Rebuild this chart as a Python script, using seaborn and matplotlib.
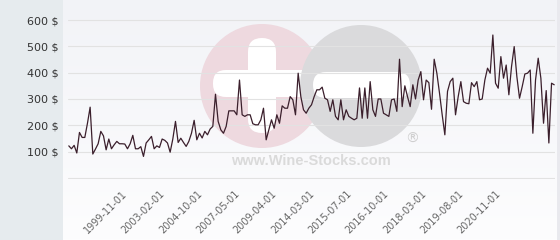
import numpy as np
import pandas as pd
import matplotlib
matplotlib.use("Agg")
import matplotlib.pyplot as plt
import seaborn as sns
from matplotlib.patches import Circle, FancyBboxPatch, Rectangle

# ---- data ----
prices = [
    122, 111, 124, 95, 173, 154, 154, 208, 269, 91, 110, 130, 177, 160, 107, 148, 111, 126, 139, 130,
    130, 129, 111, 130, 162, 111, 111, 119, 82, 133, 145, 158, 111, 122, 116, 148, 143, 133, 98, 148,
    215, 135, 151, 135, 120, 139, 170, 219, 145, 170,
    152, 177, 164, 186, 196, 318, 215, 183, 170, 196, 255, 255, 255, 240, 372, 240, 234, 240, 240, 206,
    202, 202, 221, 265, 145, 183, 221, 189, 240, 208, 274, 265, 265, 309, 297, 240, 398, 309, 259, 246,
    265, 278, 309, 335, 335, 345, 303, 297, 253, 297, 234, 221, 297, 221, 259, 234, 227, 221, 227,
    342, 227, 342, 227, 366, 259, 234, 300, 300, 246, 240, 234, 297, 300, 253, 451, 271, 350, 309, 271,
    354, 300, 372, 404, 297, 372, 362, 261, 451, 398, 322, 240, 164, 329, 366, 379, 240, 309, 366, 290,
    284, 282, 362, 347, 366, 297, 300, 372, 417, 398, 543, 360, 341, 461, 379, 429, 316, 423, 499, 385,
    303, 347, 395, 398, 410, 170, 372, 455, 379, 208, 332, 133, 360, 354,
]
tick_labels = ["1999-11-01", "2003-02-01", "2004-10-01", "2007-05-01", "2009-04-01",
               "2014-03-01", "2015-07-01", "2016-10-01", "2018-03-01", "2019-08-01",
               "2020-11-01"]
first_tick = 20
tick_step = 14
y_ticks = [0, 100, 200, 300, 400, 500, 600]

df = pd.DataFrame({"idx": np.arange(len(prices)), "price": prices})

sns.set_style("white")
plt.rcParams['font.family'] = ['DejaVu Sans']

W, H = 560, 240
fig = plt.figure(figsize=(W / 100, H / 100), dpi=100)

# ---- background layer (pixel coordinates) ----
bg = fig.add_axes([0, 0, 1, 1], zorder=0)
bg.axis('off')
grad = np.linspace(0, 1, 240)[:, None, None]
top = np.array([242, 243, 247]) / 255
bot = np.array([253, 253, 254]) / 255
img = top + (bot - top) * grad
bg.imshow(img, extent=(63, 557, 240, 0), aspect='auto', interpolation='bilinear')
bg.add_patch(Rectangle((0, 0), 63, 240, color='#e6ebee', lw=0))
bg.add_patch(Rectangle((557, 0), 3, 240, color='#e9e9ee', lw=0))

pink = '#eed9df'
grey = '#dadadc'
bg.add_patch(Circle((262, 86), 62, color=pink, lw=0))
bg.add_patch(FancyBboxPatch((248, 38), 28, 95, boxstyle="round,pad=0,rounding_size=14",
                            color='white', lw=0))
bg.add_patch(FancyBboxPatch((213, 70), 110, 27, boxstyle="round,pad=0,rounding_size=13",
                            color='white', lw=0))
bg.add_patch(Circle((361, 86), 61, color=grey, lw=0))
bg.add_patch(FancyBboxPatch((313, 72), 97, 26, boxstyle="round,pad=0,rounding_size=13",
                            color='white', lw=0))
bg.text(311, 161, "www.Wine-Stocks.com", ha='center', va='center', fontsize=10.5,
        fontweight='bold', color='#dadada', family=['Liberation Sans', 'DejaVu Sans'])
bg.text(412, 139, "\u00ae", ha='center', va='center', fontsize=10,
        color='#cfcfcf', family=['DejaVu Sans'])
bg.set_xlim(0, W)
bg.set_ylim(H, 0)

# ---- main chart ----
px_per_unit = 158 / 600
ext = 1.0 / px_per_unit
ax = fig.add_axes([68 / W, 61 / H, 487 / W, 160 / H], zorder=1)
ax.patch.set_alpha(0)
sns.lineplot(data=df, x="idx", y="price", ax=ax, color='#3b1f2c', linewidth=0.9)
ax.set_xlim(-0.3, len(prices) - 0.7)
ax.set_ylim(-ext, 600 + ext)
ax.set_yticks(y_ticks)
ax.set_yticklabels(['' if v == 0 else f'{v} $' for v in y_ticks], fontsize=8, color='#333333')
ax.yaxis.grid(True, color='#e2e2e2', linewidth=0.8)
ax.xaxis.grid(False)
ax.set_axisbelow(True)
for s in ax.spines.values():
    s.set_visible(False)
positions = [first_tick + tick_step * k for k in range(len(tick_labels))]
ax.set_xticks(positions)
ax.set_xticklabels(tick_labels, rotation=45, ha='right', rotation_mode='anchor',
                   fontsize=7, color='#666666')
ax.tick_params(axis='y', length=0, pad=6.5)
ax.tick_params(axis='x', length=0, pad=7)
ax.set_xlabel('')
ax.set_ylabel('')

fig.savefig('out.png', dpi=100)
